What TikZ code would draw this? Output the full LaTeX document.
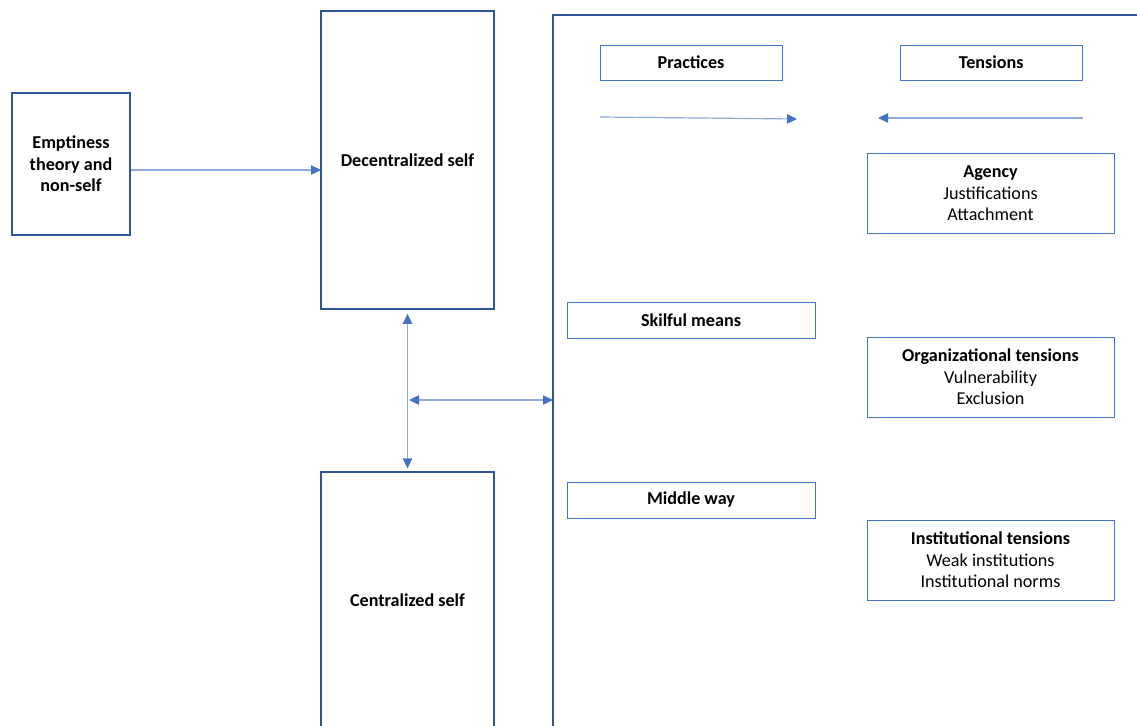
\documentclass[tikz,border=0pt]{standalone}
\usepackage{fontspec}
\setmainfont{Carlito}
\usetikzlibrary{positioning, arrows.meta}
\definecolor{darkframe}{RGB}{47,85,151}
\definecolor{accent}{RGB}{68,114,196}
\definecolor{paleline}{RGB}{143,170,220}

\begin{document}
\begin{tikzpicture}[x=0.75pt, y=-0.75pt, font=\fontsize{13.6}{16.2}\selectfont,
  selfbox/.style={draw=darkframe, line width=1.3pt, align=center, font=\fontsize{13.6}{16.2}\selectfont\bfseries},
  labelbox/.style={draw=accent, line width=0.7pt, align=center, minimum width=136.5pt, minimum height=26.25pt, font=\fontsize{13.6}{16.2}\selectfont\bfseries},
  tensionbox/.style={draw=accent, line width=0.7pt, align=center, minimum width=185.25pt, minimum height=60pt},
  link/.style={paleline, line width=0.9pt, -{Triangle[length=7.5pt, width=7pt, color=accent]}},
  twolink/.style={paleline, line width=0.9pt, {Triangle[length=7.5pt, width=7pt, color=accent]}-{Triangle[length=7.5pt, width=7pt, color=accent]}}]
  \clip (0,0) rectangle (1137,725);
  \fill[white] (0,0) rectangle (1137,725);

  % left column
  \node[selfbox, minimum width=88.5pt, minimum height=106.5pt]  (emptiness)  at (71,164)    {Emptiness\\theory and\\non-self};
  \node[selfbox, minimum width=129.75pt, minimum height=223.5pt] (decentral) at (407.5,160)  {Decentralized self};
  \node[selfbox, minimum width=129.75pt, minimum height=192pt]   (central)   at (407.5,600)  {Centralized self};

  % big frame
  \draw[darkframe, line width=1.3pt] (553,740) -- (553,15) -- (1150,15);

  % headings
  \node[labelbox]                    (practices) at (691,62.5) {Practices};
  \node[labelbox, right=88pt of practices] (tensions)  {Tensions};
  \node[labelbox, minimum width=186pt, minimum height=27pt] (skilful) at (691,320) {Skilful means};
  \node[labelbox, minimum width=186pt, minimum height=27pt] (middle)  at (691,500) {Middle way};

  % tensions
  \node[tensionbox] (agency)  at (990.5,193.5) {\textbf{Agency}\\Justifications\\Attachment};
  \node[tensionbox] (organ)   at (990.5,377)   {\textbf{Organizational tensions}\\Vulnerability\\Exclusion};
  \node[tensionbox] (instit)  at (990.5,560)   {\textbf{Institutional tensions}\\Weak institutions\\Institutional norms};

  \coordinate (self link)  at (321,170);
  \coordinate (hub)        at (407,400);
  \coordinate (frame edge) at (553,400);
  \coordinate (p start)    at (600,117);
  \coordinate (p end)      at (797,119);
  \coordinate (t start)    at (1083,118);
  \coordinate (t end)      at (878,118);

  \draw[link] (emptiness.east |- self link) -- (self link);
  \draw[twolink, shorten <=3pt, shorten >=2pt] (decentral.south) -- (central.north);
  \draw[twolink, shorten <=1.5pt] (hub) -- (frame edge);
  \draw[link] (p start) -- (p end);
  \draw[link] (t start) -- (t end);
\end{tikzpicture}
\end{document}
